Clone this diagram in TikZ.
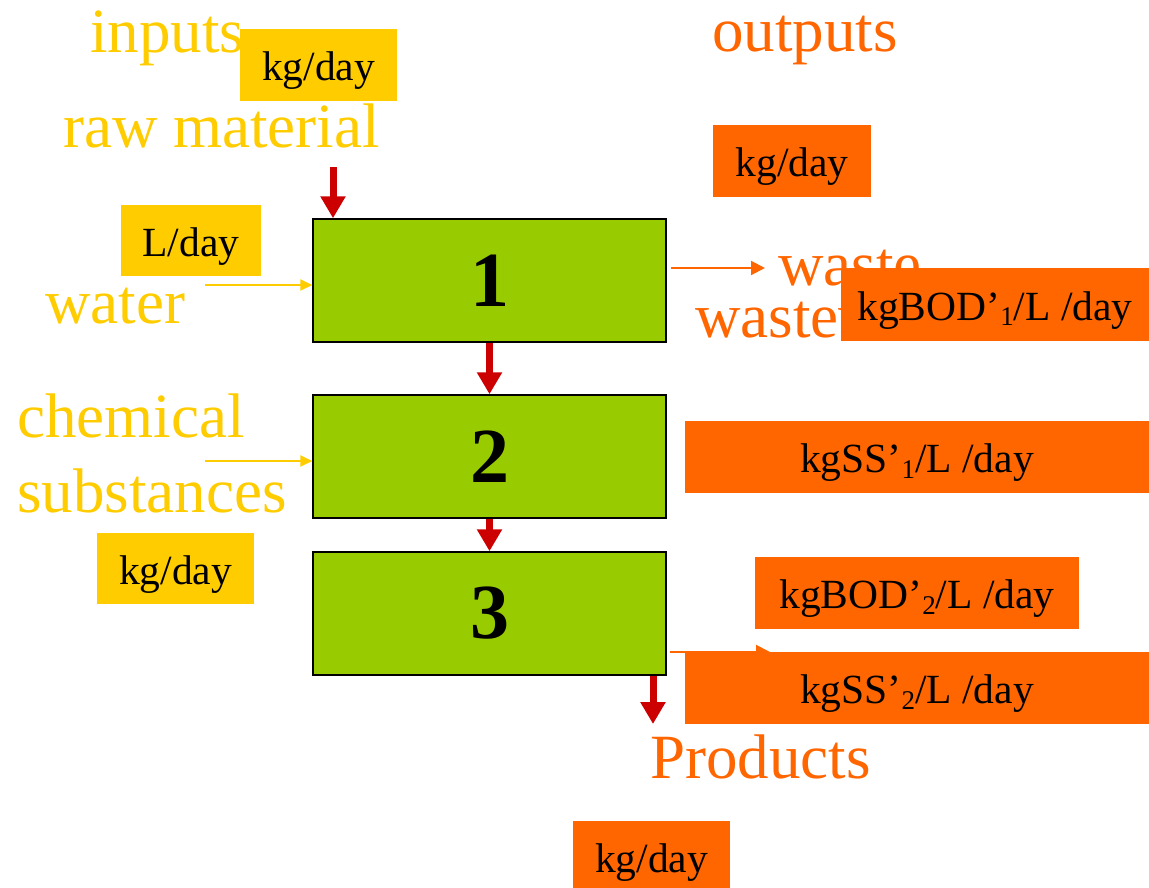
\documentclass[tikz,border=0pt]{standalone}
\usepackage{fontspec}
\setmainfont{Liberation Serif}
\usetikzlibrary{arrows.meta}
\definecolor{cyel}{HTML}{FFCC00}
\definecolor{corg}{HTML}{FF6600}
\definecolor{cgrn}{HTML}{99CC00}
\definecolor{cred}{HTML}{CC0000}
\newcommand{\bigf}{\fontsize{63}{63}\selectfont}
\newcommand{\boxf}{\fontsize{41.5}{41.5}\selectfont}
\newcommand{\mysub}[1]{\raisebox{-0.3ex}{\fontsize{27}{27}\selectfont #1}}
\begin{document}
\begin{tikzpicture}[x=1pt,y=-1pt,
 lbl/.style={anchor=base west, inner sep=0pt, font=\bigf},
 ylbl/.style={lbl, text=cyel},
 olbl/.style={lbl, text=corg},
 unitbox/.style={inner sep=0pt, font=\boxf, text=black, text height=35pt, text depth=4pt},
 ybox/.style={unitbox, fill=cyel},
 obox/.style={unitbox, fill=corg},
 stage/.style={draw=black, line width=1.5pt, fill=cgrn, minimum width=353pt, minimum height=123pt, inner sep=0pt, font=\fontsize{78}{78}\selectfont\bfseries},
 flow/.style={draw=cred, line width=7pt, -{Triangle[width=24pt,length=22pt]}},
 yarr/.style={draw=cyel, line width=2pt, -{Triangle[width=11pt,length=12pt]}},
 oarr/.style={draw=corg, line width=2pt, -{Triangle[width=14pt,length=14pt]}},
]
\useasboundingbox[fill=white] (0,0) rectangle (1149,888);

% stages
\node[stage] (b1) at (489.5,280.5) {1};
\node[stage] (b2) at (489.5,456.5) {2};
\node[stage] (b3) at (489.5,613.5) {3};

% input labels
\node[ylbl] (tin) at (90,53) {inputs};
\node[ybox, minimum width=157pt, minimum height=72pt] (kin) at (318.5,65) {kg/day};
\node[ylbl] (traw) at (63,148) {raw material};
\node[ybox, minimum width=140pt, minimum height=71pt] (lin) at (191,240.5) {L/day};
\node[ylbl] (twat) at (45,323) {water};
\node[ylbl] (tchem) at (17,437) {chemical};
\node[ylbl] (tsub) at (17,512) {substances};
\node[ybox, minimum width=157pt, minimum height=71pt] (kch) at (175.5,568.5) {kg/day};

% output labels
\node[olbl] (tout) at (712,52) {outputs};
\node[obox, minimum width=158pt, minimum height=72pt] (kout) at (792,161) {kg/day};
\node[olbl] (tw1) at (778,285) {waste};
\node[olbl] (tw2) at (695,337) {wastewater};

% input arrows
\coordinate (raws) at (333,167);
\draw[flow] (raws) -- (raws |- b1.north);
\coordinate (wats) at (205,285);
\draw[yarr] (wats) -- (wats -| b1.west);
\coordinate (chs) at (205,461);
\draw[yarr] (chs) -- (chs -| b2.west);

% stage arrows
\draw[flow] (b1.south) -- (b2.north);
\draw[flow] (b2.south) -- (b3.north);
\coordinate (pend) at (653,724);
\draw[flow] (pend |- b3.south) -- (pend);

% output arrows
\coordinate (o1) at (765,268);
\draw[oarr, shorten <=4pt] (o1 -| b1.east) -- (o1);
\coordinate (o3) at (770,652);
\draw[oarr, shorten <=3pt] (o3 -| b3.east) -- (o3);

% output unit boxes
\node[obox, minimum width=308pt, minimum height=73pt] (bod1) at (995,304.5) {kgBOD’\mysub{1}/L /day};
\node[obox, minimum width=464pt, minimum height=72pt] (ss1) at (917,457) {kgSS’\mysub{1}/L /day};
\node[obox, minimum width=324pt, minimum height=72pt] (bod2) at (917,593) {kgBOD’\mysub{2}/L /day};
\node[obox, minimum width=464pt, minimum height=72pt] (ss2) at (917,688) {kgSS’\mysub{2}/L /day};

% products
\node[olbl] (tprod) at (650,778) {Products};
\node[obox, minimum width=157pt, minimum height=72pt] (kprod) at (651.5,857) {kg/day};
\end{tikzpicture}
\end{document}
